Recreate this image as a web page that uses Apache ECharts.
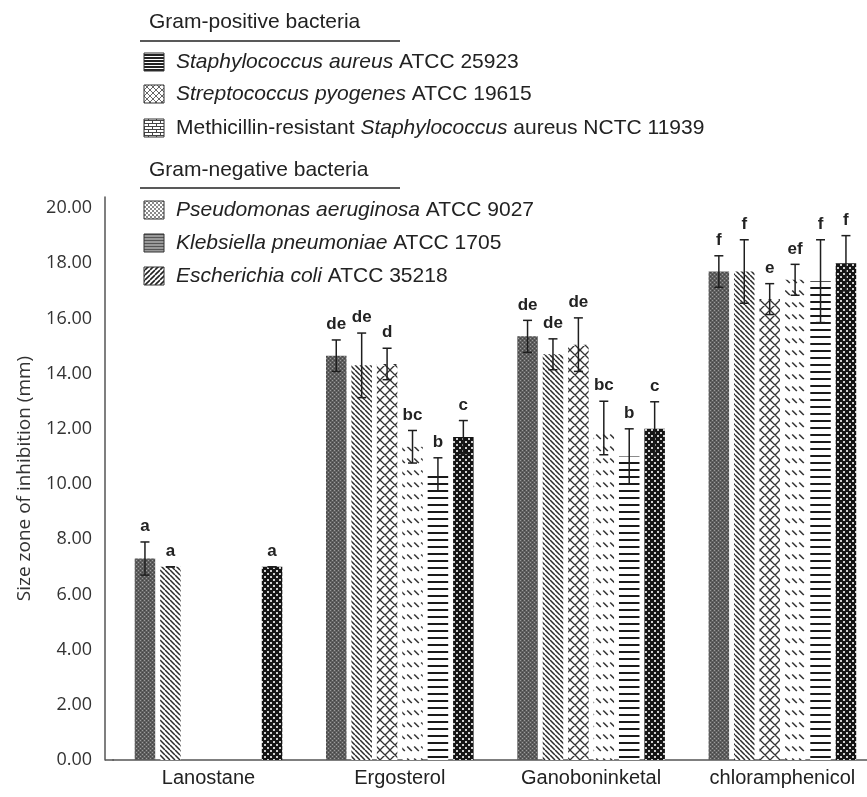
<!DOCTYPE html>
<html><head><meta charset="utf-8">
<script src="https://cdn.jsdelivr.net/npm/echarts@6/dist/echarts.min.js"></script>
<style>html,body{margin:0;padding:0;background:#fff}#c{width:867px;height:797px}</style>
</head><body><div id="c"></div>
<script>
// ---------------- data ----------------
const categories = ['Lanostane', 'Ergosterol', 'Ganoboninketal', 'chloramphenicol'];
const yTicks = [0, 2, 4, 6, 8, 10, 12, 14, 16, 18, 20];

const saValues   = [7.3, 14.65, 15.35, 17.7];
const saErrors   = [0.6, 0.57, 0.58, 0.57];
const saLetters  = ['a', 'de', 'de', 'f'];

const spValues   = [7.0, 14.3, 14.7, 17.7];
const spErrors   = [0, 1.17, 0.56, 1.15];
const spLetters  = ['a', 'de', 'de', 'f'];

const mrValues   = [null, 14.35, 15.05, 16.7];
const mrErrors   = [null, 0.57, 0.97, 0.56];
const mrLetters  = ['', 'd', 'de', 'e'];

const paValues   = [null, 11.35, 12.03, 17.4];
const paErrors   = [null, 0.59, 0.97, 0.56];
const paLetters  = ['', 'bc', 'bc', 'ef'];

const kpValues   = [null, 10.35, 11.0, 17.35];
const kpErrors   = [null, 0.6, 1.0, 1.5];
const kpLetters  = ['', 'b', 'b', 'f'];

const ecValues   = [7.0, 11.7, 12.0, 18.0];
const ecErrors   = [0, 0.6, 0.98, 1.0];
const ecLetters  = ['a', 'c', 'c', 'f'];

const groupTitles = ['Gram-positive bacteria', 'Gram-negative bacteria'];
const legendLabels = [
  '{i|Staphylococcus aureus} ATCC 25923',
  '{i|Streptococcus pyogenes} ATCC 19615',
  'Methicillin-resistant {i|Staphylococcus} aureus NCTC 11939',
  '{i|Pseudomonas aeruginosa} ATCC 9027',
  '{i|Klebsiella pneumoniae} ATCC 1705',
  '{i|Escherichia coli} ATCC 35218'
];

// ---------------- patterns ----------------
function tile(w, h, draw) {
  const c = document.createElement('canvas');
  c.width = w; c.height = h;
  const g = c.getContext('2d');
  draw(g, w, h);
  return { image: c, repeat: 'repeat' };
}
const barPatterns = [
  tile(4, 4, (g) => { g.fillStyle = '#5e5e5e'; g.fillRect(0, 0, 4, 4); g.fillStyle = '#9c9c9c'; g.fillRect(0, 0, 1, 1); g.fillRect(2, 2, 1, 1); g.fillStyle = '#444'; g.fillRect(2, 0, 1, 1); g.fillRect(0, 2, 1, 1); }),
  tile(5, 5, (g) => { g.fillStyle = '#fff'; g.fillRect(0, 0, 5, 5); g.strokeStyle = '#2a2a2a'; g.lineWidth = 1.5; g.beginPath(); [-5, 0, 5].forEach(k => { g.moveTo(k, 0); g.lineTo(k + 5, 5); }); g.stroke(); }),
  tile(10, 10, (g) => { g.fillStyle = '#fff'; g.fillRect(0, 0, 10, 10); g.strokeStyle = '#333'; g.lineWidth = 1.3; g.beginPath(); [-10, 0, 10].forEach(k => { g.moveTo(k, 0); g.lineTo(k + 10, 10); g.moveTo(k + 10, 0); g.lineTo(k, 10); }); g.stroke(); }),
  tile(7, 12, (g) => { g.fillStyle = '#fff'; g.fillRect(0, 0, 7, 12); g.strokeStyle = '#333'; g.lineWidth = 1.6; g.beginPath(); g.moveTo(1.2, 2.5); g.lineTo(5.8, 7); g.stroke(); }),
  tile(4, 7, (g) => { g.fillStyle = '#fff'; g.fillRect(0, 0, 4, 7); g.fillStyle = '#1a1a1a'; g.fillRect(0, 0, 4, 2); }),
  tile(6, 6, (g) => { g.fillStyle = '#151515'; g.fillRect(0, 0, 6, 6); g.fillStyle = '#d0d0d0'; g.fillRect(0, 0, 2, 2); g.fillRect(3, 3, 2, 2); })
];
const legendPatterns = [
  tile(2, 3, (g) => { g.fillStyle = '#fff'; g.fillRect(0, 0, 2, 3); g.fillStyle = '#222'; g.fillRect(0, 0, 2, 2); }),
  tile(6, 6, (g) => { g.fillStyle = '#fff'; g.fillRect(0, 0, 6, 6); g.strokeStyle = '#666'; g.lineWidth = 1; g.beginPath(); [-6, 0, 6].forEach(k => { g.moveTo(k, 0); g.lineTo(k + 6, 6); g.moveTo(k + 6, 0); g.lineTo(k, 6); }); g.stroke(); }),
  tile(8, 6, (g) => { g.fillStyle = '#fff'; g.fillRect(0, 0, 8, 6); g.fillStyle = '#444'; g.fillRect(0, 0, 8, 1); g.fillRect(0, 3, 8, 1); g.fillRect(0, 0, 1, 3); g.fillRect(4, 3, 1, 3); }),
  tile(4, 4, (g) => { g.fillStyle = '#8a8a8a'; g.fillRect(0, 0, 4, 4); g.fillStyle = '#fff'; g.fillRect(0, 0, 2, 2); g.fillRect(2, 2, 2, 2); }),
  tile(1, 3, (g) => { g.fillStyle = '#999'; g.fillRect(0, 0, 1, 3); g.fillStyle = '#555'; g.fillRect(0, 0, 1, 1); }),
  tile(5, 5, (g) => { g.fillStyle = '#fff'; g.fillRect(0, 0, 5, 5); g.strokeStyle = '#222'; g.lineWidth = 1.6; g.beginPath(); [-5, 0, 5].forEach(k => { g.moveTo(k, 5); g.lineTo(k + 5, 0); }); g.stroke(); })
];

// ---------------- layout constants ----------------
const GRID_LEFT = 112.85, GRID_TOP = 197, GRID_W = 765.2, GRID_H = 563;
const Y_MAX = 20.4, AXIS_X = 105;
const BAR_W = 20.5, BAR_GAP = 0.24;
const STEP = BAR_W * (1 + BAR_GAP);
const TXT = '#222';

const allValues = [saValues, spValues, mrValues, paValues, kpValues, ecValues];
const allErrors = [saErrors, spErrors, mrErrors, paErrors, kpErrors, ecErrors];
const allLetters = [saLetters, spLetters, mrLetters, paLetters, kpLetters, ecLetters];

const series = [];
allValues.forEach((vals, k) => {
  series.push({
    type: 'bar', name: 'b' + k, data: vals, barWidth: BAR_W, barGap: (BAR_GAP * 100) + '%',
    itemStyle: { color: barPatterns[k] }, z: 2, silent: true
  });
});
allValues.forEach((vals, k) => {
  const data = [];
  vals.forEach((v, i) => { if (v != null) data.push([i, v, allErrors[k][i]]); });
  series.push({
    type: 'custom', name: 'e' + k, data, z: 5, silent: true, clip: false,
    encode: { x: 0, y: 1 },
    renderItem: (params, api) => {
      const ci = api.value(0), v = api.value(1), e = api.value(2);
      const x = api.coord([ci, v])[0] + (k - 2.5) * STEP;
      const top = api.coord([ci, v + e])[1];
      const bot = api.coord([ci, v - e])[1];
      const st = { stroke: '#1e1e1e', lineWidth: 1.5 };
      return {
        type: 'group',
        children: [
          { type: 'line', shape: { x1: x, y1: top, x2: x, y2: bot }, style: st },
          { type: 'line', shape: { x1: x - 4.5, y1: top, x2: x + 4.5, y2: top }, style: st },
          { type: 'line', shape: { x1: x - 4.5, y1: bot, x2: x + 4.5, y2: bot }, style: st },
          { type: 'text', x: x, y: top - 7, style: { text: allLetters[k][ci], fill: TXT, font: 'bold 17px "Liberation Sans", Arial, sans-serif', align: 'center', verticalAlign: 'bottom' } }
        ]
      };
    }
  });
});

// ---------------- legend graphics ----------------
const graphic = [];
const LEG_X = 140, BOX_X = 144, TEXT_X = 176;
const sections = [
  { titleY: 22, lineY: 41, rows: [62, 94, 128], items: [0, 1, 2] },
  { titleY: 170, lineY: 188, rows: [210, 243, 276], items: [3, 4, 5] }
];
sections.forEach((s, si) => {
  graphic.push({ type: 'text', x: LEG_X + 9, y: s.titleY, style: { text: groupTitles[si], fill: TXT, font: '21px "Liberation Sans", Arial, sans-serif', verticalAlign: 'middle' } });
  graphic.push({ type: 'line', shape: { x1: LEG_X, y1: s.lineY, x2: LEG_X + 260, y2: s.lineY }, style: { stroke: '#222', lineWidth: 1.5 } });
  s.items.forEach((it, ri) => {
    const y = s.rows[ri];
    graphic.push({ type: 'rect', shape: { x: BOX_X, y: y - 9, width: 20, height: 18 }, style: { fill: legendPatterns[it], stroke: '#333', lineWidth: 1 } });
    graphic.push({ type: 'text', x: TEXT_X, y: y, style: { text: legendLabels[it], fill: TXT, fontSize: 21, fontFamily: '"Liberation Sans", Arial, sans-serif', verticalAlign: 'middle', rich: { i: { fontStyle: 'italic', fontSize: 21, fontFamily: '"Liberation Sans", Arial, sans-serif', fill: TXT } } } });
  });
});
// corner patch joining the y-axis line to the x-axis line
graphic.push({ type: 'line', shape: { x1: AXIS_X, y1: GRID_TOP + GRID_H, x2: GRID_LEFT + 1, y2: GRID_TOP + GRID_H }, style: { stroke: '#555', lineWidth: 1.5 } });

const chart = echarts.init(document.getElementById('c'), null, { renderer: 'canvas' });
chart.setOption({
  animation: false,
  backgroundColor: '#fff',
  grid: { left: GRID_LEFT, top: GRID_TOP, width: GRID_W, height: GRID_H, containLabel: false, outerBoundsMode: 'none' },
  xAxis: {
    type: 'category', data: categories,
    axisLine: { lineStyle: { color: '#555', width: 1.5 } },
    axisTick: { show: false },
    axisLabel: { interval: 0, hideOverlap: false, fontSize: 20, fontFamily: '"Liberation Sans", Arial, sans-serif', color: TXT, margin: 8 }
  },
  yAxis: {
    type: 'value', min: 0, max: Y_MAX, interval: 2, offset: GRID_LEFT - AXIS_X,
    axisLine: { show: true, lineStyle: { color: '#555', width: 1.5 } },
    axisTick: { show: false }, splitLine: { show: false },
    axisLabel: {
      fontSize: 18, fontFamily: '"Open Sans", sans-serif', color: '#333', margin: 13,
      formatter: (v) => yTicks.indexOf(Math.round(v * 1000) / 1000) >= 0 ? v.toFixed(2) : ''
    },
    name: 'Size zone of inhibition (mm)', nameLocation: 'middle', nameGap: 71,
    nameTextStyle: { fontSize: 19, fontFamily: '"Open Sans", sans-serif', color: '#333' }
  },
  graphic,
  series
});
</script></body></html>
